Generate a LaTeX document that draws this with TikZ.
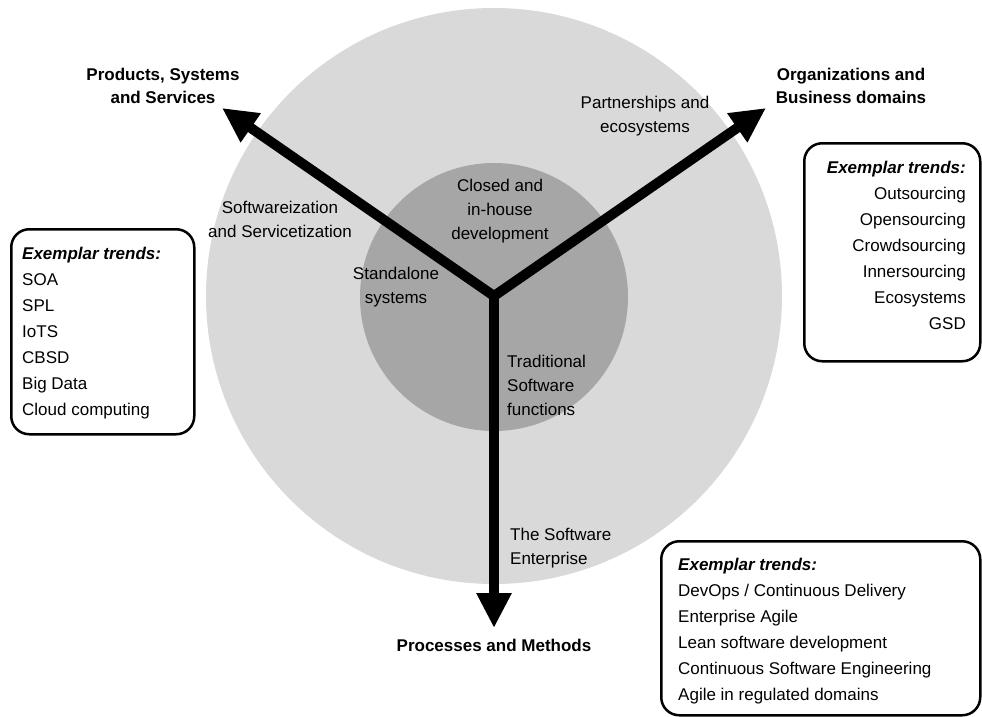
\documentclass[tikz,border=0pt]{standalone}
\usepackage{fontspec}
\setmainfont{Liberation Sans}
\usetikzlibrary{arrows.meta}
\definecolor{outerg}{HTML}{D9D9D9}
\definecolor{innerg}{HTML}{A6A6A6}
\tikzset{bighead/.tip={Triangle[length=35pt,width=33pt]}}
\begin{document}
\begin{tikzpicture}[x=1pt,y=-1pt,
  txt/.style={font=\fontsize{17}{24}\selectfont, inner sep=0pt, align=center},
  listtxt/.style={font=\fontsize{17}{26}\selectfont, inner sep=0pt},
  ttl/.style={font=\bfseries\fontsize{17}{23}\selectfont, inner sep=0pt, align=center},
  trendbox/.style={draw, line width=2.5pt, rounded corners=18pt, inner sep=0pt},
  arrowline/.style={line width=10pt, line join=miter}
]
\useasboundingbox (0,0) rectangle (982,717);
% circles
\fill[outerg] (494,296) circle[radius=288pt];
\fill[innerg] (494,297) circle[radius=134pt];
% axes
\coordinate (C) at (494,296);
\coordinate (TL) at (222,108);
\coordinate (TR) at (766,108);
\coordinate (TD) at (494,628);
\draw[arrowline, {bighead}-{bighead}] (TL) -- (C) -- (TR);
\draw[arrowline, -{bighead}] (C) -- (TD);
% titles
\node[ttl] (tPS) at (163,86) {Products, Systems\\and Services};
\node[ttl] (tOB) at (851,86) {Organizations and\\Business domains};
\node[ttl] (tPM) at (494,645) {Processes and Methods};
% inner labels
\node[txt] (lPE) at (645,116) {Partnerships and\\ecosystems};
\node[txt] (lSS) at (280,219) {Softwareization\\and Servicetization};
\node[txt] (lCI) at (500,211) {Closed and\\in-house\\development};
\node[txt] (lSA) at (396,287) {Standalone\\systems};
\node[txt, align=left, anchor=west] (lTS) at (507,385) {Traditional\\Software\\functions};
\node[txt, align=left, anchor=west] (lSE) at (510,548) {The Software\\Enterprise};
% trend boxes
\node[trendbox, minimum width=183pt, minimum height=205pt, anchor=north west] (boxL) at (10,228) {};
\node[listtxt, align=left, anchor=north west] (trL) at (22,246.5)
  {\textbf{\textit{Exemplar trends:}}\\SOA\\SPL\\IoTS\\CBSD\\Big Data\\Cloud computing};
\node[trendbox, minimum width=176pt, minimum height=218pt, anchor=north west] (boxR) at (803,142) {};
\node[listtxt, align=right, anchor=north east] (trR) at (966,160.5)
  {\textbf{\textit{Exemplar trends:}}\\Outsourcing\\Opensourcing\\Crowdsourcing\\Innersourcing\\Ecosystems\\GSD};
\node[trendbox, minimum width=319pt, minimum height=174pt, anchor=north west] (boxB) at (660,540) {};
\node[listtxt, align=left, anchor=north west] (trB) at (678,557.5)
  {\textbf{\textit{Exemplar trends:}}\\DevOps / Continuous Delivery\\Enterprise Agile\\Lean software development\\Continuous Software Engineering\\Agile in regulated domains};
\end{tikzpicture}
\end{document}
